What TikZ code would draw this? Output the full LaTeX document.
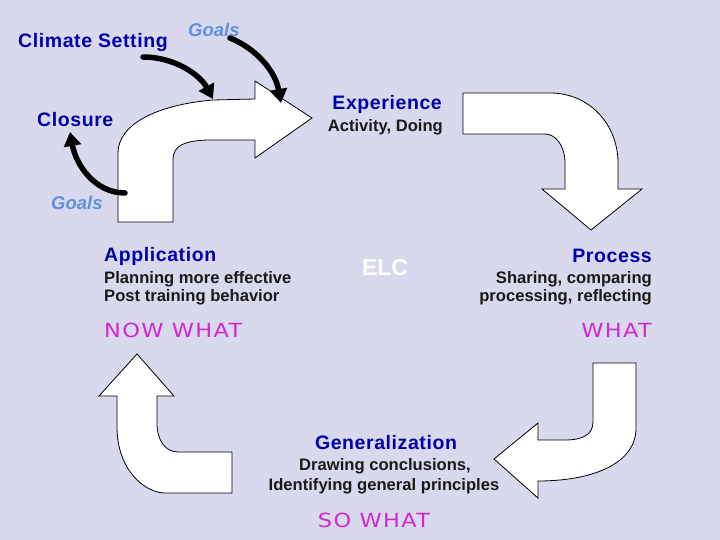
\documentclass[tikz,border=0pt]{standalone}
\usepackage{fontspec}
\setmainfont{Liberation Sans}
\newfontfamily\whatfont{DejaVu Sans}
\usetikzlibrary{arrows.meta}
\definecolor{bgcol}{RGB}{217,217,238}
\definecolor{ttlcol}{RGB}{0,0,170}
\definecolor{glscol}{RGB}{95,145,225}
\definecolor{magcol}{RGB}{210,40,210}
\tikzset{
  titlestyle/.style={font=\fontsize{19.5}{22}\selectfont\bfseries\addfontfeature{LetterSpace=3}, text=ttlcol, inner sep=0pt},
  goalstyle/.style={font=\fontsize{18.5}{21}\selectfont\bfseries\itshape, text=glscol, inner sep=0pt},
  substyle/.style={font=\fontsize{16.6}{19}\selectfont\bfseries, text=black!90, inner sep=0pt},
  whatstyle/.style={font=\fontsize{19.5}{22}\selectfont\whatfont\addfontfeature{LetterSpace=6}, text=magcol, inner sep=0pt},
  blockarrow/.style={fill=white, draw=black, line width=0.8pt, line join=miter},
  curvearrow/.style={draw=black, line width=5.5pt, line cap=round, -{Triangle[length=14pt,width=17pt]}}
}
\begin{document}
\begin{tikzpicture}[x=1pt,y=-1pt]
\useasboundingbox (0,0) rectangle (720,540);
\fill[bgcol] (0,0) rectangle (720,540);

% block arrow 1 (up then right)
\path[blockarrow] (118,222) -- (118,153) .. controls (118,125) and (155,105) .. (213,100)
  -- (255,99) -- (255,81) -- (312,118) -- (255,158) -- (255,140) -- (207,140)
  .. controls (185,141) and (173,145) .. (173,160) -- (173,222) -- cycle;

% block arrow 2 (right then down)
\path[blockarrow] (463,93) -- (550,93) .. controls (590,93) and (618,125) .. (618,163)
  -- (618,189) -- (642,189) -- (591,230) -- (542,189) -- (565,189) -- (565,163)
  .. controls (565,145) and (555,134) .. (545,134) -- (463,134) -- cycle;

% block arrow 3 (down then left)
\path[blockarrow] (593,363) -- (636,363) -- (636,428) .. controls (636,465) and (590,481) .. (538,481)
  -- (538,498) -- (494,459) -- (538,423) -- (538,440) -- (565,440)
  .. controls (582,440) and (593,435) .. (593,422) -- cycle;

% block arrow 4 (left then up)
\path[blockarrow] (232,452) -- (232,493) -- (165,493) .. controls (145,493) and (117,470) .. (117,427)
  -- (117,396) -- (99,396) -- (137,354) -- (174,396) -- (157,396) -- (157,423)
  .. controls (157,440) and (165,452) .. (178,452) -- cycle;

% texts
\node[titlestyle, anchor=base west] (climate) at (18,48) {Climate Setting};
\node[goalstyle, anchor=base west] (goalsA) at (188,37) {Goals};
\node[titlestyle, anchor=base west] (closure) at (37,127) {Closure};
\node[goalstyle, anchor=base west] (goalsB) at (51,210) {Goals};

\node[titlestyle, anchor=base east] (exp) at (442,110) {Experience};
\node[substyle, anchor=base east] (expsub) at (443,132) {Activity, Doing};

\node[titlestyle, anchor=base west] (app) at (104,261) {Application};
\node[substyle, anchor=base west] (app1) at (104,283) {Planning more effective};
\node[substyle, anchor=base west] (app2) at (104,301) {Post training behavior};
\node[whatstyle, anchor=base west] (nowwhat) at (104,337) {\scalebox{1.15}[1]{NOW WHAT}};

\node[font=\fontsize{23}{26}\selectfont\bfseries, text=white, inner sep=0pt, anchor=base] (elc) at (385,275) {ELC};

\node[titlestyle, anchor=base east] (proc) at (652,262) {Process};
\node[substyle, anchor=base east] (proc1) at (652,283) {Sharing, comparing};
\node[substyle, anchor=base east] (proc2) at (652,301) {processing, reflecting};
\node[whatstyle, anchor=base east] (what) at (652,337) {\scalebox{1.15}[1]{WHAT}};

\node[titlestyle, anchor=base] (gen) at (386,449) {Generalization};
\node[substyle, anchor=base] (gen1) at (385,470) {Drawing conclusions,};
\node[substyle, anchor=base] (gen2) at (384,490) {Identifying general principles};
\node[whatstyle, anchor=base] (sowhat) at (374,527) {\scalebox{1.15}[1]{SO WHAT}};

% curved black arrows
\coordinate (c1s) at (143,57);
\coordinate (c1e) at (213,99);
\coordinate (c2s) at (230,38);
\coordinate (c2e) at (281,103);
\coordinate (c3s) at (125,193);
\coordinate (c3e) at (70,132);
\draw[curvearrow] (c1s) .. controls (175,57) and (200,75) .. (c1e);
\draw[curvearrow] (c2s) .. controls (255,48) and (275,70) .. (c2e);
\draw[curvearrow] (c3s) .. controls (95,193) and (76,165) .. (c3e);
\end{tikzpicture}
\end{document}
